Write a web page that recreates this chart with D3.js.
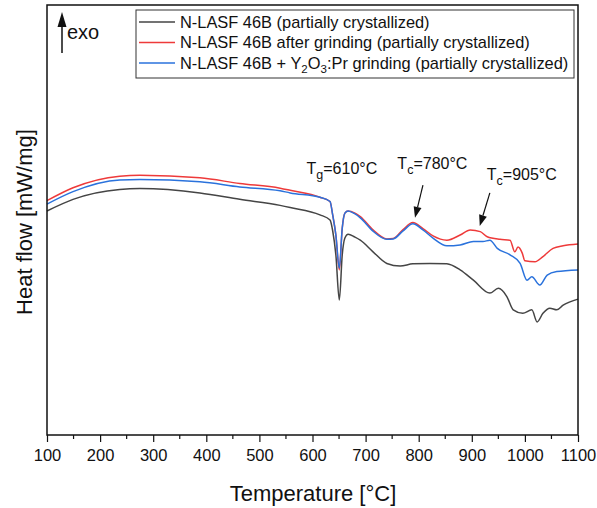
<!DOCTYPE html>
<html>
<head>
<meta charset="utf-8">
<script src="https://cdn.jsdelivr.net/npm/d3@7"></script>
<style>
  body { margin: 0; background: #fff; }
  text { font-family: "Liberation Sans", Arial, sans-serif; fill: #111; }
</style>
</head>
<body>
<div class="container"></div>
<script>
// DSC curves, heat flow in arbitrary units (no y scale shown in the figure)
var tempBlack = [100, 149, 237, 275, 388, 463, 539, 558, 614, 633, 638, 644, 650.5, 656, 661, 667, 680, 690, 714, 740, 765, 789, 821, 853, 878, 903, 934, 950, 966, 978, 996, 1013, 1023, 1034, 1047, 1060, 1072, 1100];
var flowBlack = [5.21, 5.48, 5.71, 5.73, 5.63, 5.48, 5.34, 5.29, 5.12, 5.00, 4.75, 4.19, 3.14, 4.19, 4.58, 4.67, 4.60, 4.53, 4.26, 3.99, 3.93, 3.98, 3.99, 3.98, 3.84, 3.60, 3.30, 3.41, 3.22, 2.91, 2.83, 2.91, 2.63, 2.83, 2.95, 2.91, 3.02, 3.16];

var tempRed = [100, 149, 237, 275, 388, 463, 539, 558, 614, 633, 638, 644, 650.5, 656, 661, 667, 680, 690, 714, 740, 752, 770, 789, 808, 827, 853, 878, 897, 916, 929, 953, 972, 981, 987, 995, 1000, 1019, 1034, 1053, 1072, 1100];
var flowRed = [5.45, 5.75, 6.02, 6.04, 5.98, 5.85, 5.74, 5.69, 5.53, 5.43, 5.12, 4.65, 3.84, 4.81, 5.16, 5.21, 5.16, 5.08, 4.77, 4.56, 4.57, 4.77, 4.94, 4.80, 4.63, 4.53, 4.65, 4.77, 4.73, 4.61, 4.55, 4.53, 4.26, 4.37, 4.23, 4.05, 4.03, 4.15, 4.34, 4.40, 4.44];

var tempBlue = [100, 149, 237, 275, 388, 463, 539, 558, 614, 633, 638, 644, 650.5, 656, 661, 667, 680, 690, 714, 740, 752, 770, 789, 808, 827, 853, 878, 903, 921, 934, 948, 972, 991, 1004, 1013, 1028, 1042, 1060, 1100];
var flowBlue = [5.37, 5.66, 5.93, 5.94, 5.89, 5.77, 5.68, 5.63, 5.53, 5.43, 5.12, 4.65, 3.88, 4.81, 5.16, 5.21, 5.14, 5.05, 4.74, 4.55, 4.56, 4.74, 4.91, 4.77, 4.58, 4.40, 4.42, 4.50, 4.50, 4.53, 4.34, 4.19, 3.99, 3.60, 3.68, 3.49, 3.72, 3.80, 3.84];

var seriesNames = [
    "N-LASF 46B (partially crystallized)",
    "N-LASF 46B after grinding (partially crystallized)",
    "N-LASF 46B + Y2O3:Pr grinding (partially crystallized)"
];
var seriesColors = ["#454545", "#ee3a3a", "#2a72dc"];
var xTicks = [100, 200, 300, 400, 500, 600, 700, 800, 900, 1000, 1100];

// annotation arrows: [fromT, fromFlow, toT, toFlow]
var arrows = [[808, 5.81, 793, 5.05], [934, 5.63, 915, 4.86]];

plot_it();

function plot_it() {
    const width = 597, height = 508;
    const margin = {left: 47, right: 19, top: 5, bottom: 73};

    let svg = d3.select('.container').append('svg').attr('width', width).attr('height', height);

    let x = d3.scaleLinear().domain([100, 1100]).range([margin.left, width - margin.right]);
    let y = d3.scaleLinear().domain([0, 10]).range([height - margin.bottom, margin.top]);

    // curves
    let line = d3.line().x(d => x(d[0])).y(d => y(d[1])).curve(d3.curveMonotoneX);
    let series = [
        d3.zip(tempBlack, flowBlack),
        d3.zip(tempRed, flowRed),
        d3.zip(tempBlue, flowBlue)
    ];
    series.forEach((s, i) => {
        svg.append('path').datum(s).attr('d', line)
            .attr('fill', 'none').attr('stroke', seriesColors[i]).attr('stroke-width', 1.5);
    });

    // frame
    svg.append('rect').attr('x', x(100)).attr('y', y(10))
        .attr('width', x(1100) - x(100)).attr('height', y(0) - y(10))
        .attr('fill', 'none').attr('stroke', '#111').attr('stroke-width', 1.5);

    // x axis
    let xAxis = svg.append('g').attr('transform', `translate(0,${y(0)})`)
        .call(d3.axisBottom(x).tickValues(xTicks).tickSize(7).tickPadding(7).tickFormat(d3.format('d')));
    xAxis.select('.domain').remove();
    xAxis.selectAll('line').attr('stroke', '#111').attr('stroke-width', 1.2);
    xAxis.selectAll('text').attr('font-size', '16.5px').attr('fill', '#111')
        .style('font-family', '"Liberation Sans", Arial, sans-serif');
    let minor = d3.range(150, 1100, 100);
    svg.append('g').selectAll('line').data(minor).enter().append('line')
        .attr('x1', d => x(d)).attr('x2', d => x(d))
        .attr('y1', y(0)).attr('y2', y(0) + 4)
        .attr('stroke', '#111').attr('stroke-width', 1.2);

    // axis titles
    svg.append('text').attr('x', 313).attr('y', 501).attr('text-anchor', 'middle')
        .attr('font-size', '22px').text('Temperature [°C]');
    svg.append('text').attr('transform', 'translate(32,222) rotate(-90)').attr('text-anchor', 'middle')
        .attr('font-size', '22px').text('Heat flow [mW/mg]');

    // exo arrow
    let exoX = x(100) + 15;
    svg.append('line').attr('x1', exoX).attr('x2', exoX).attr('y1', 53).attr('y2', 22)
        .attr('stroke', '#111').attr('stroke-width', 1.5);
    svg.append('path').attr('d', `M${exoX},12 L${exoX - 4.5},27 L${exoX + 4.5},27 Z`).attr('fill', '#111');
    svg.append('text').attr('x', exoX + 5).attr('y', 39).attr('font-size', '20px').text('exo');

    // legend
    let lg = svg.append('g');
    lg.append('rect').attr('x', 136).attr('y', 10).attr('width', 438).attr('height', 68)
        .attr('fill', '#fff').attr('stroke', '#333').attr('stroke-width', 1);
    seriesNames.forEach((n, i) => {
        let ly = 22 + i * 20.5;
        lg.append('line').attr('x1', 139).attr('x2', 175).attr('y1', ly).attr('y2', ly)
            .attr('stroke', seriesColors[i]).attr('stroke-width', 1.5);
        let t = lg.append('text').attr('x', 180).attr('y', ly + 5.5).attr('font-size', '16.4px');
        if (i == 2) {
            t.append('tspan').text('N-LASF 46B + Y');
            t.append('tspan').attr('dy', 4).attr('font-size', '11.5px').text('2');
            t.append('tspan').attr('dy', -4).text('O');
            t.append('tspan').attr('dy', 4).attr('font-size', '11.5px').text('3');
            t.append('tspan').attr('dy', -4).text(':Pr grinding (partially crystallized)');
        } else {
            t.text(n);
        }
    });

    // annotations
    let note = (px, py, sub, rest) => {
        let t = svg.append('text').attr('x', px).attr('y', py).attr('font-size', '16px');
        t.append('tspan').text('T');
        t.append('tspan').attr('dy', 5).attr('font-size', '12.5px').text(sub);
        t.append('tspan').attr('dy', -5).text(rest);
    };
    note(x(600) - 6, y(6.05) - 1, 'g', '=610°C');
    note(x(773) - 7, y(6.15) - 2, 'c', '=780°C');
    note(x(900) + 15, y(5.93), 'c', '=905°C');

    arrows.forEach(a => {
        let x1 = x(a[0]), y1 = y(a[1]), x2 = x(a[2]), y2 = y(a[3]);
        let ang = Math.atan2(y2 - y1, x2 - x1);
        let hl = 11, hw = 4;
        let bx = x2 - hl * Math.cos(ang), by = y2 - hl * Math.sin(ang);
        svg.append('line').attr('x1', x1).attr('y1', y1).attr('x2', bx).attr('y2', by)
            .attr('stroke', '#111').attr('stroke-width', 1.2);
        svg.append('path').attr('fill', '#111')
            .attr('d', `M${x2},${y2} L${bx + hw * Math.sin(ang)},${by - hw * Math.cos(ang)} L${bx - hw * Math.sin(ang)},${by + hw * Math.cos(ang)} Z`);
    });
}
</script>
</body>
</html>
